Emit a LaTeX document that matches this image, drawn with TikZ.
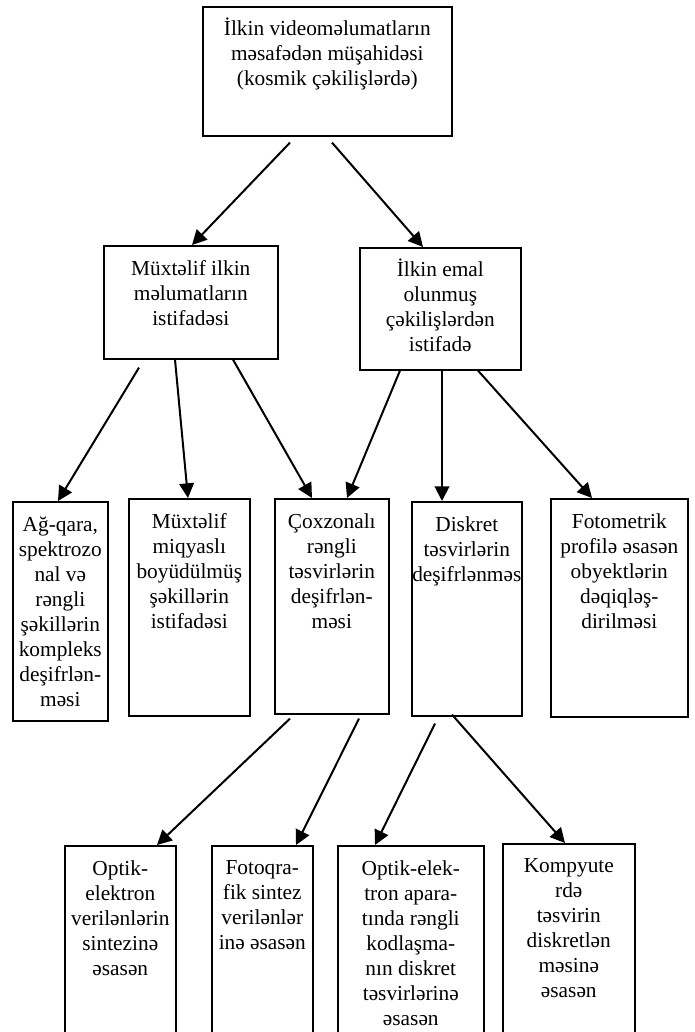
\documentclass[tikz,border=0pt]{standalone}
\usepackage{fontspec}
\setmainfont{Liberation Serif}
\usetikzlibrary{arrows.meta,positioning}
\tikzset{
  blk/.style={draw, line width=1.2pt, anchor=north west, inner sep=0pt},
  txt/.style={align=center, inner sep=0pt, font=\fontsize{16}{18.75}\selectfont},
  arr/.style={line width=1.5pt, -{Triangle[length=11pt,width=11pt]}}
}
\begin{document}
\begin{tikzpicture}[x=0.75pt,y=-0.75pt]
  \useasboundingbox (0,0) rectangle (694,1032);
  \clip (0,0) rectangle (694,1032);
  % boxes
  \node[blk, minimum width=186.75pt, minimum height=96.75pt] (src) at (202,6) {};
  \node[blk, minimum width=130.5pt, minimum height=84.75pt] (raw) at (103,245) {};
  \node[blk, minimum width=120.75pt, minimum height=91.5pt] (proc) at (359,247) {};
  \node[blk, minimum width=71.25pt, minimum height=164.25pt] (bw) at (12,501) {};
  \node[blk, minimum width=90.75pt, minimum height=162.75pt] (scale) at (128,498) {};
  \node[blk, minimum width=85.5pt, minimum height=161.25pt] (multi) at (274,498) {};
  \node[blk, minimum width=82.5pt, minimum height=160.5pt] (disc) at (411,501) {};
  \node[blk, minimum width=102.75pt, minimum height=163.5pt] (photo) at (550,498) {};
  \node[blk, minimum width=83.25pt, minimum height=150pt] (opt) at (64,845) {};
  \node[blk, minimum width=75.75pt, minimum height=150pt] (fsyn) at (211,845) {};
  \node[blk, minimum width=109.5pt, minimum height=150pt] (code) at (337,845) {};
  \node[blk, minimum width=99pt, minimum height=152pt] (comp) at (502,843) {};
  % texts
  \node[txt, below=9pt of src.north] (src-t) {İlkin videoməlumatların\\məsafədən müşahidəsi\\(kosmik çəkilişlərdə)};
  \node[txt, below=11.5pt of raw.north] (raw-t) {Müxtəlif ilkin\\məlumatların\\istifadəsi};
  \node[txt, below=9pt of proc.north] (proc-t) {İlkin emal\\olunmuş\\çəkilişlərdən\\istifadə};
  \node[txt, below=11.5pt of bw.north] (bw-t) {Ağ-qara,\\spektrozo\\nal və\\rəngli\\şəkillərin\\kompleks\\deşifrlən-\\məsi};
  \node[txt, below=11.5pt of scale.north] (scale-t) {Müxtəlif\\miqyaslı\\boyüdülmüş\\şəkillərin\\istifadəsi};
  \node[txt, below=11.5pt of multi.north] (multi-t) {Çoxzonalı\\rəngli\\təsvirlərin\\deşifrlən-\\məsi};
  \node[txt, below=11.5pt of disc.north] (disc-t) {Diskret\\təsvirlərin\\deşifrlənməs};
  \node[txt, below=11.5pt of photo.north] (photo-t) {Fotometrik\\profilə əsasən\\obyektlərin\\dəqiqləş-\\dirilməsi};
  \node[txt, below=11.5pt of opt.north] (opt-t) {Optik-\\elektron\\verilənlərin\\sintezinə\\əsasən};
  \node[txt, below=11.5pt of fsyn.north] (fsyn-t) {Fotoqra-\\fik sintez\\verilənlər\\inə əsasən};
  \node[txt, below=11.5pt of code.north] (code-t) {Optik-elek-\\tron apara-\\tında rəngli\\kodlaşma-\\nın diskret\\təsvirlərinə\\əsasən};
  \node[txt, below=11.5pt of comp.north] (comp-t) {Kompyute\\rdə\\təsvirin\\diskretlən\\məsinə\\əsasən};
  % arrows
  \draw[arr] ([shift={(88,6)}]src.south west) -- ([shift={(89,0)}]raw.north west);
  \draw[arr] ([shift={(130,6)}]src.south west) -- ([shift={(64,0)}]proc.north west);
  \draw[arr] ([shift={(36,8)}]raw.south west) -- ([shift={(46,0)}]bw.north west);
  \draw[arr] ([shift={(72,0)}]raw.south west) -- ([shift={(60,0)}]scale.north west);
  \draw[arr] ([shift={(130,0)}]raw.south west) -- ([shift={(38,0)}]multi.north west);
  \draw[arr] ([shift={(41,0)}]proc.south west) -- ([shift={(73,0)}]multi.north west);
  \draw[arr] ([shift={(83,0)}]proc.south west) -- ([shift={(31,0)}]disc.north west);
  \draw[arr] ([shift={(119,0)}]proc.south west) -- ([shift={(42,0)}]photo.north west);
  \draw[arr] ([shift={(16,4)}]multi.south west) -- ([shift={(93,0)}]opt.north west);
  \draw[arr] ([shift={(85,4)}]multi.south west) -- ([shift={(85,0)}]fsyn.north west);
  \draw[arr] ([shift={(24,7)}]disc.south west) -- ([shift={(38,0)}]code.north west);
  \draw[arr] ([shift={(41,-2)}]disc.south west) -- ([shift={(63,0)}]comp.north west);
\end{tikzpicture}
\end{document}
